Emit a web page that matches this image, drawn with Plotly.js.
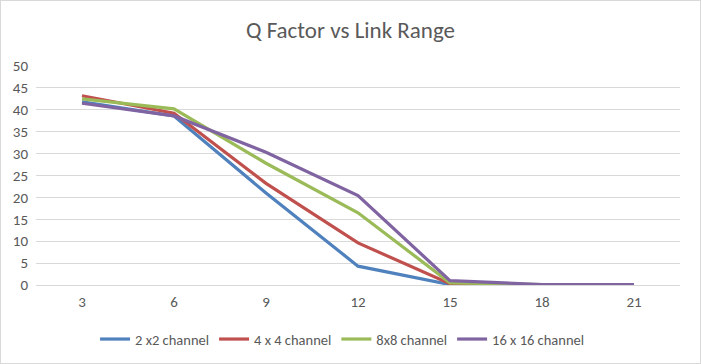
<!DOCTYPE html>
<html>
<head>
<meta charset="utf-8">
<script src="https://cdn.plot.ly/plotly-3.0.1.min.js"></script>
<style>
html,body{margin:0;padding:0;background:#fff;}
#chart{width:699px;height:362px;border:1px solid #d9d9d9;}
</style>
</head>
<body>
<div id="chart"></div>
<script>
const categories = ["3","6","9","12","15","18","21"];
const s2x2 = [41.8, 38.6, 21.0, 4.3, 0.1, 0.0, 0.0];
const s4x4 = [43.2, 39.2, 23.2, 9.6, 0.3, 0.05, 0.05];
const s8x8 = [42.5, 40.2, 27.8, 16.5, 0.5, 0.1, 0.1];
const s16x16 = [41.5, 38.6, 30.3, 20.4, 1.0, 0.1, 0.1];
const names = ["2 x2 channel", "4 x 4 channel", "8x8 channel", "16 x 16 channel"];
const colors = ["#4F81BD", "#C0504D", "#9BBB59", "#8064A2"];
const series = [s2x2, s4x4, s8x8, s16x16];
const yTicks = [0,5,10,15,20,25,30,35,40,45,50];

const traces = series.map((s, i) => ({
  x: categories, y: s, name: names[i], type: "scatter", mode: "lines",
  line: {color: colors[i], width: 3.2}
}));

const layout = {
  width: 699, height: 362,
  margin: {l: 35, r: 20, t: 65, b: 78},
  paper_bgcolor: "#fff", plot_bgcolor: "#fff",
  font: {family: "Carlito, Calibri, Lato, sans-serif", color: "#595959", size: 15},
  title: {text: "Q Factor vs Link Range", font: {size: 23, color: "#595959"}, x: 0.5, xanchor: "center", y: 0.92, yanchor: "middle"},
  xaxis: {type: "category", range: [-0.5, 6.5], showgrid: false, zeroline: false,
          showline: true, linecolor: "#d9d9d9", ticks: "", ticklabelstandoff: 3, tickfont: {size: 15, color: "#595959"}},
  yaxis: {range: [0, 50], tickvals: yTicks, showgrid: true, gridcolor: "#d9d9d9", gridwidth: 1,
          zeroline: false, showline: false, ticks: "", ticklabelstandoff: 7, tickfont: {size: 15, color: "#595959"}},
  legend: {orientation: "h", x: 0.476, xanchor: "center", yref: "container", y: 0.066, yanchor: "middle",
           font: {size: 14.5, color: "#595959"}, itemwidth: 30, tracegroupgap: 0},
  showlegend: true
};

Plotly.newPlot("chart", traces, layout, {displayModeBar: false, staticPlot: true});
</script>
</body>
</html>
